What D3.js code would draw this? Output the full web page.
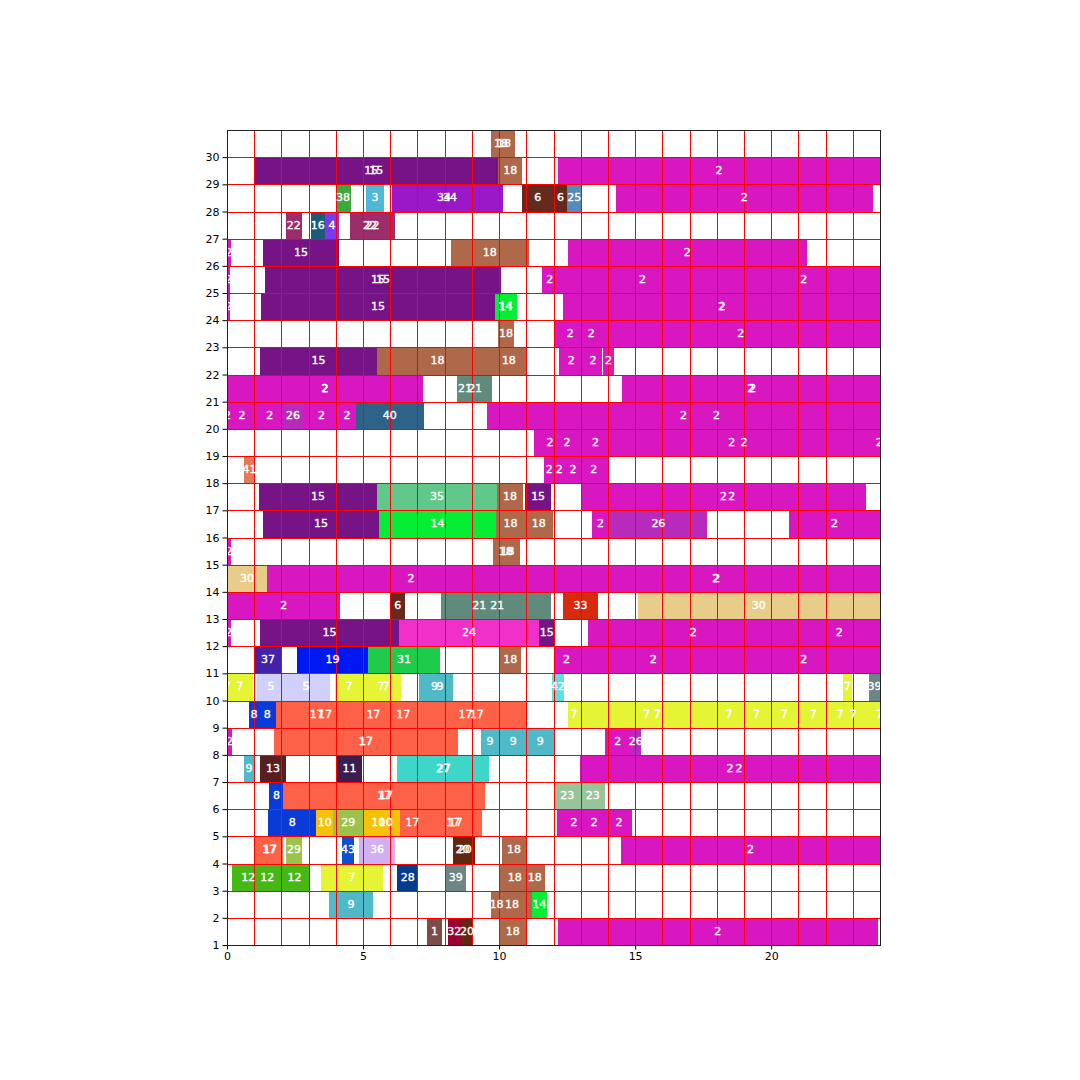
<!DOCTYPE html>
<html>
<head>
<meta charset="utf-8">
<script src="https://cdn.jsdelivr.net/npm/d3@7"></script>
<style>
  html, body { margin: 0; padding: 0; background: #ffffff; }
  svg text { font-family: "DejaVu Sans", sans-serif; }
</style>
</head>
<body>
<svg id="chart" width="1080" height="1080"></svg>
<script>
// ---- data ----
const xTicks = [0, 5, 10, 15, 20];
const yTicks = d3.range(1, 31);

// task id -> colour
const taskIds    = [1, 2, 3, 4, 5, 6, 7, 8, 9, 10, 11, 12, 13, 14, 15, 16, 17, 18, 19, 20, 21, 22, 23, 24, 25, 26, 27, 28, 29, 30, 31, 32, 33, 34, 35, 36, 37, 38, 39, 40, 41, 42, 43];
const taskColors = ["#7e4c48", "#d817c0", "#4fb8d4", "#7b3aeb", "#d0d0fa", "#652a1e", "#e5f535", "#0a3ad8", "#4fb9c8", "#f5c20a",
                    "#3a1e4e", "#46b816", "#5a1e1e", "#05ee35", "#761486", "#1e5a78", "#fd6248", "#b0684a", "#0018f0", "#602810",
                    "#5f8a7c", "#9c2d6c", "#98c49a", "#f030c8", "#568ab8", "#b82abc", "#3dd6c8", "#053c8c", "#9dc24a", "#e8cc8a",
                    "#1ecb4a", "#9a0030", "#d82a10", "#9b18c8", "#62c88a", "#d0b0f0", "#4222a8", "#3aa83a", "#6e8585", "#2e6288",
                    "#e07a58", "#5fe0e0", "#1050d0"];

// bars: [row, start, end, task]
const bars = [
  [30, 0, 0.05, 2], [30, 9.70, 10.45, 18], [30, 9.78, 10.58, 18],
  [29, 1.0, 9.97, 15], [29, 1.0, 9.6, 15], [29, 9.97, 10.86, 18], [29, 12.16, 24, 2],
  [28, 3.99, 4.54, 38], [28, 5.11, 5.77, 3], [28, 6.06, 9.9, 34], [28, 6.27, 10.13, 34], [28, 10.84, 12.0, 6], [28, 12.0, 12.51, 6], [28, 12.51, 13.02, 25], [28, 14.3, 23.73, 2],
  [27, 2.17, 2.74, 22], [27, 3.07, 3.6, 16], [27, 3.6, 4.12, 4], [27, 4.52, 6.17, 22], [27, 4.52, 6.0, 22],
  [26, 0, 0.13, 2], [26, 1.32, 4.12, 15], [26, 8.23, 11.09, 18], [26, 12.53, 21.3, 2],
  [25, 0, 0.12, 2], [25, 1.4, 10.06, 15], [25, 1.4, 9.7, 15], [25, 11.58, 12.15, 2], [25, 12.15, 18.4, 2], [25, 18.4, 24, 2],
  [24, 0, 0.12, 2], [24, 1.25, 9.85, 15], [24, 9.85, 10.65, 14], [24, 9.85, 10.6, 14], [24, 12.35, 24, 2], [24, 12.4, 24, 2],
  [23, 9.97, 10.54, 18], [23, 12.03, 13.2, 2], [23, 13.0, 13.77, 2], [23, 13.77, 24, 2],
  [22, 0, 0.05, 2], [22, 1.21, 5.51, 15], [22, 5.51, 9.96, 18], [22, 9.73, 10.99, 18], [22, 12.2, 13.1, 2], [22, 13.1, 13.8, 2], [22, 13.82, 14.22, 2],
  [21, 0, 7.2, 2], [21, 0.05, 7.15, 2], [21, 8.45, 9.05, 21], [21, 8.5, 9.74, 21], [21, 14.64, 24, 2], [21, 14.5, 24, 2],
  [20, 0, 0.04, 2], [20, 0, 1.1, 2], [20, 1.1, 2.05, 2], [20, 2.05, 2.8, 26], [20, 2.8, 4.15, 2], [20, 4.1, 4.73, 2], [20, 4.73, 7.23, 40], [20, 9.56, 24, 2], [20, 11.98, 24, 2],
  [19, 11.28, 12.46, 2], [19, 12.0, 13.0, 2], [19, 13.0, 14.08, 2], [19, 13.1, 24, 2], [19, 14.0, 24, 2], [19, 23.95, 24, 2],
  [18, 0.62, 1.04, 41], [18, 11.65, 12.03, 2], [18, 12.03, 12.39, 2], [18, 12.39, 13.05, 2], [18, 12.95, 14.01, 2],
  [17, 0, 0.04, 2], [17, 1.18, 5.51, 15], [17, 5.51, 9.92, 35], [17, 9.92, 10.89, 18], [17, 10.96, 11.91, 15], [17, 13.01, 23.48, 2], [17, 13.62, 23.48, 2],
  [16, 1.32, 5.59, 15], [16, 5.59, 9.89, 14], [16, 9.89, 10.95, 18], [16, 10.95, 11.97, 18], [16, 13.41, 14.05, 2], [16, 14.05, 17.66, 26], [16, 20.65, 24, 2],
  [15, 0, 0.16, 2], [15, 9.79, 10.7, 18], [15, 9.85, 10.77, 18],
  [14, 0, 1.47, 30], [14, 1.47, 12.05, 2], [14, 11.92, 24, 2], [14, 12.0, 24, 2],
  [13, 0, 4.17, 2], [13, 6.02, 6.53, 6], [13, 7.87, 10.67, 21], [13, 7.95, 11.91, 21], [13, 12.35, 13.63, 33], [13, 15.09, 24, 30],
  [12, 0, 0.13, 2], [12, 1.21, 6.32, 15], [12, 6.32, 11.47, 24], [12, 11.47, 12.03, 15], [12, 13.27, 21.0, 2], [12, 21.0, 24, 2],
  [11, 0.99, 2.02, 37], [11, 2.57, 5.18, 19], [11, 5.18, 7.83, 31], [11, 10.01, 10.81, 18], [11, 12.03, 12.93, 2], [11, 12.93, 18.4, 2], [11, 18.4, 24, 2],
  [10, 0, 0.02, 7], [10, 0, 0.94, 7], [10, 1.09, 2.15, 5], [10, 2.0, 3.79, 5], [10, 2.05, 3.79, 5], [10, 3.97, 5.0, 7], [10, 4.92, 6.4, 7], [10, 5.28, 6.4, 7],
  [10, 7.06, 8.2, 9], [10, 7.37, 8.29, 9], [10, 11.94, 12.37, 42], [10, 22.64, 22.98, 7], [10, 23.6, 24, 39],
  [9, 0.82, 1.16, 8], [9, 1.16, 1.8, 8], [9, 1.8, 4.8, 17], [9, 1.8, 5.4, 17], [9, 4.8, 5.96, 17], [9, 5.96, 7.0, 17], [9, 6.55, 10.99, 17], [9, 7.37, 10.99, 17],
  [9, 12.53, 12.97, 7], [9, 12.97, 17.87, 7], [9, 12.97, 18.65, 7], [9, 17.9, 19.0, 7], [9, 19.0, 19.92, 7], [9, 19.92, 21.04, 7], [9, 21.04, 22.06, 7], [9, 22.06, 23.0, 7], [9, 22.04, 24, 7], [9, 23.96, 24, 7],
  [8, 0, 0.2, 2], [8, 1.73, 8.49, 17], [8, 1.8, 8.4, 17], [8, 9.33, 10.0, 9], [8, 10.0, 11.05, 9], [8, 11.0, 12.03, 9], [8, 13.89, 14.84, 2], [8, 14.84, 15.21, 26],
  [7, 0.62, 0.99, 9], [7, 1.21, 2.17, 13], [7, 4.03, 4.97, 11], [7, 6.25, 9.63, 27], [7, 6.3, 9.63, 27], [7, 12.97, 24, 2], [7, 13.64, 24, 2],
  [6, 1.56, 2.07, 8], [6, 2.07, 9.48, 17], [6, 2.2, 9.48, 17], [6, 12.02, 12.99, 23], [6, 12.99, 13.89, 23],
  [5, 0, 0.05, 2], [5, 1.52, 3.27, 8], [5, 3.27, 3.91, 10], [5, 3.91, 5.01, 29], [5, 5.01, 6.12, 10], [5, 5.3, 6.37, 10], [5, 6.37, 7.24, 17], [5, 7.24, 9.37, 17], [5, 7.43, 9.37, 17],
  [5, 12.12, 13.38, 2], [5, 13.0, 14.0, 2], [5, 13.95, 14.87, 2],
  [4, 1.04, 2.07, 17], [4, 1.1, 2.07, 17], [4, 2.16, 2.76, 29], [4, 4.23, 4.66, 43], [4, 4.86, 6.17, 36], [4, 8.32, 9.0, 20], [4, 8.36, 9.11, 20], [4, 10.11, 10.99, 18], [4, 14.48, 24, 2],
  [3, 0.17, 1.4, 12], [3, 1.0, 1.96, 12], [3, 1.96, 3.01, 12], [3, 3.45, 5.72, 7], [3, 6.25, 7.03, 28], [3, 8.04, 8.78, 39], [3, 10.01, 11.14, 18], [3, 10.93, 11.69, 18],
  [2, 3.75, 5.37, 9], [2, 9.70, 10.12, 18], [2, 9.75, 11.2, 18], [2, 11.2, 11.76, 14],
  [1, 7.35, 7.91, 1], [1, 8.12, 8.59, 32], [1, 8.59, 9.05, 20], [1, 10.01, 10.99, 18], [1, 12.16, 23.91, 2]
];

// ---- drawing ----
const svg = d3.select("#chart");
const padL = 227, padR = 880, padT = 130, padB = 945;
const x = d3.scaleLinear().domain([0, 24]).range([padL, padR]);
const y = d3.scaleLinear().domain([1, 31]).range([padB, padT]);
const color = d3.scaleOrdinal().domain(taskIds).range(taskColors);

// bars
svg.append("g").attr("shape-rendering", "crispEdges")
  .selectAll("rect").data(bars).join("rect")
  .attr("x", d => x(d[1]))
  .attr("width", d => Math.max(1, x(d[2]) - x(d[1])))
  .attr("y", d => y(d[0] + 1))
  .attr("height", d => y(d[0]) - y(d[0] + 1))
  .attr("fill", d => color(d[3]));

// red grid
const px = v => Math.round(v) + 0.5;
const grid = svg.append("g").attr("stroke", "#ff0000").attr("stroke-width", 1).attr("shape-rendering", "crispEdges");
grid.selectAll("line.v").data(d3.range(0, 25)).join("line").attr("class", "v")
  .attr("x1", d => px(x(d))).attr("x2", d => px(x(d))).attr("y1", padT).attr("y2", padB);
grid.selectAll("line.h").data(d3.range(1, 32)).join("line").attr("class", "h")
  .attr("y1", d => px(y(d))).attr("y2", d => px(y(d))).attr("x1", padL).attr("x2", padR);

// labels
svg.append("g").selectAll("text").data(bars).join("text")
  .attr("x", d => x((d[1] + d[2]) / 2))
  .attr("y", d => y(d[0] + 0.5))
  .attr("text-anchor", "middle")
  .attr("dominant-baseline", "central")
  .attr("fill", "#ffffff")
  .attr("stroke", "#ffffff")
  .attr("stroke-width", 0.35)
  .attr("font-size", "11px")
  .text(d => d[3]);

// axes
const xAxis = svg.append("g").attr("transform", `translate(0,${padB})`)
  .call(d3.axisBottom(x).tickValues(xTicks).tickSizeOuter(0).tickSize(4.5).tickPadding(3));
const yAxis = svg.append("g").attr("transform", `translate(${padL},0)`)
  .call(d3.axisLeft(y).tickValues(yTicks).tickSizeOuter(0).tickSize(4.5).tickPadding(3));
[xAxis, yAxis].forEach(a => {
  a.selectAll("text").attr("font-size", "11px").attr("fill", "#000").attr("font-family", "DejaVu Sans, sans-serif");
  a.selectAll("line").attr("stroke", "#000");
  a.select(".domain").remove();
});

// frame
svg.append("rect").attr("x", padL + 0.5).attr("y", padT + 0.5).attr("width", padR - padL).attr("height", padB - padT)
  .attr("fill", "none").attr("stroke", "#222").attr("stroke-width", 1).attr("shape-rendering", "crispEdges");
</script>
</body>
</html>
